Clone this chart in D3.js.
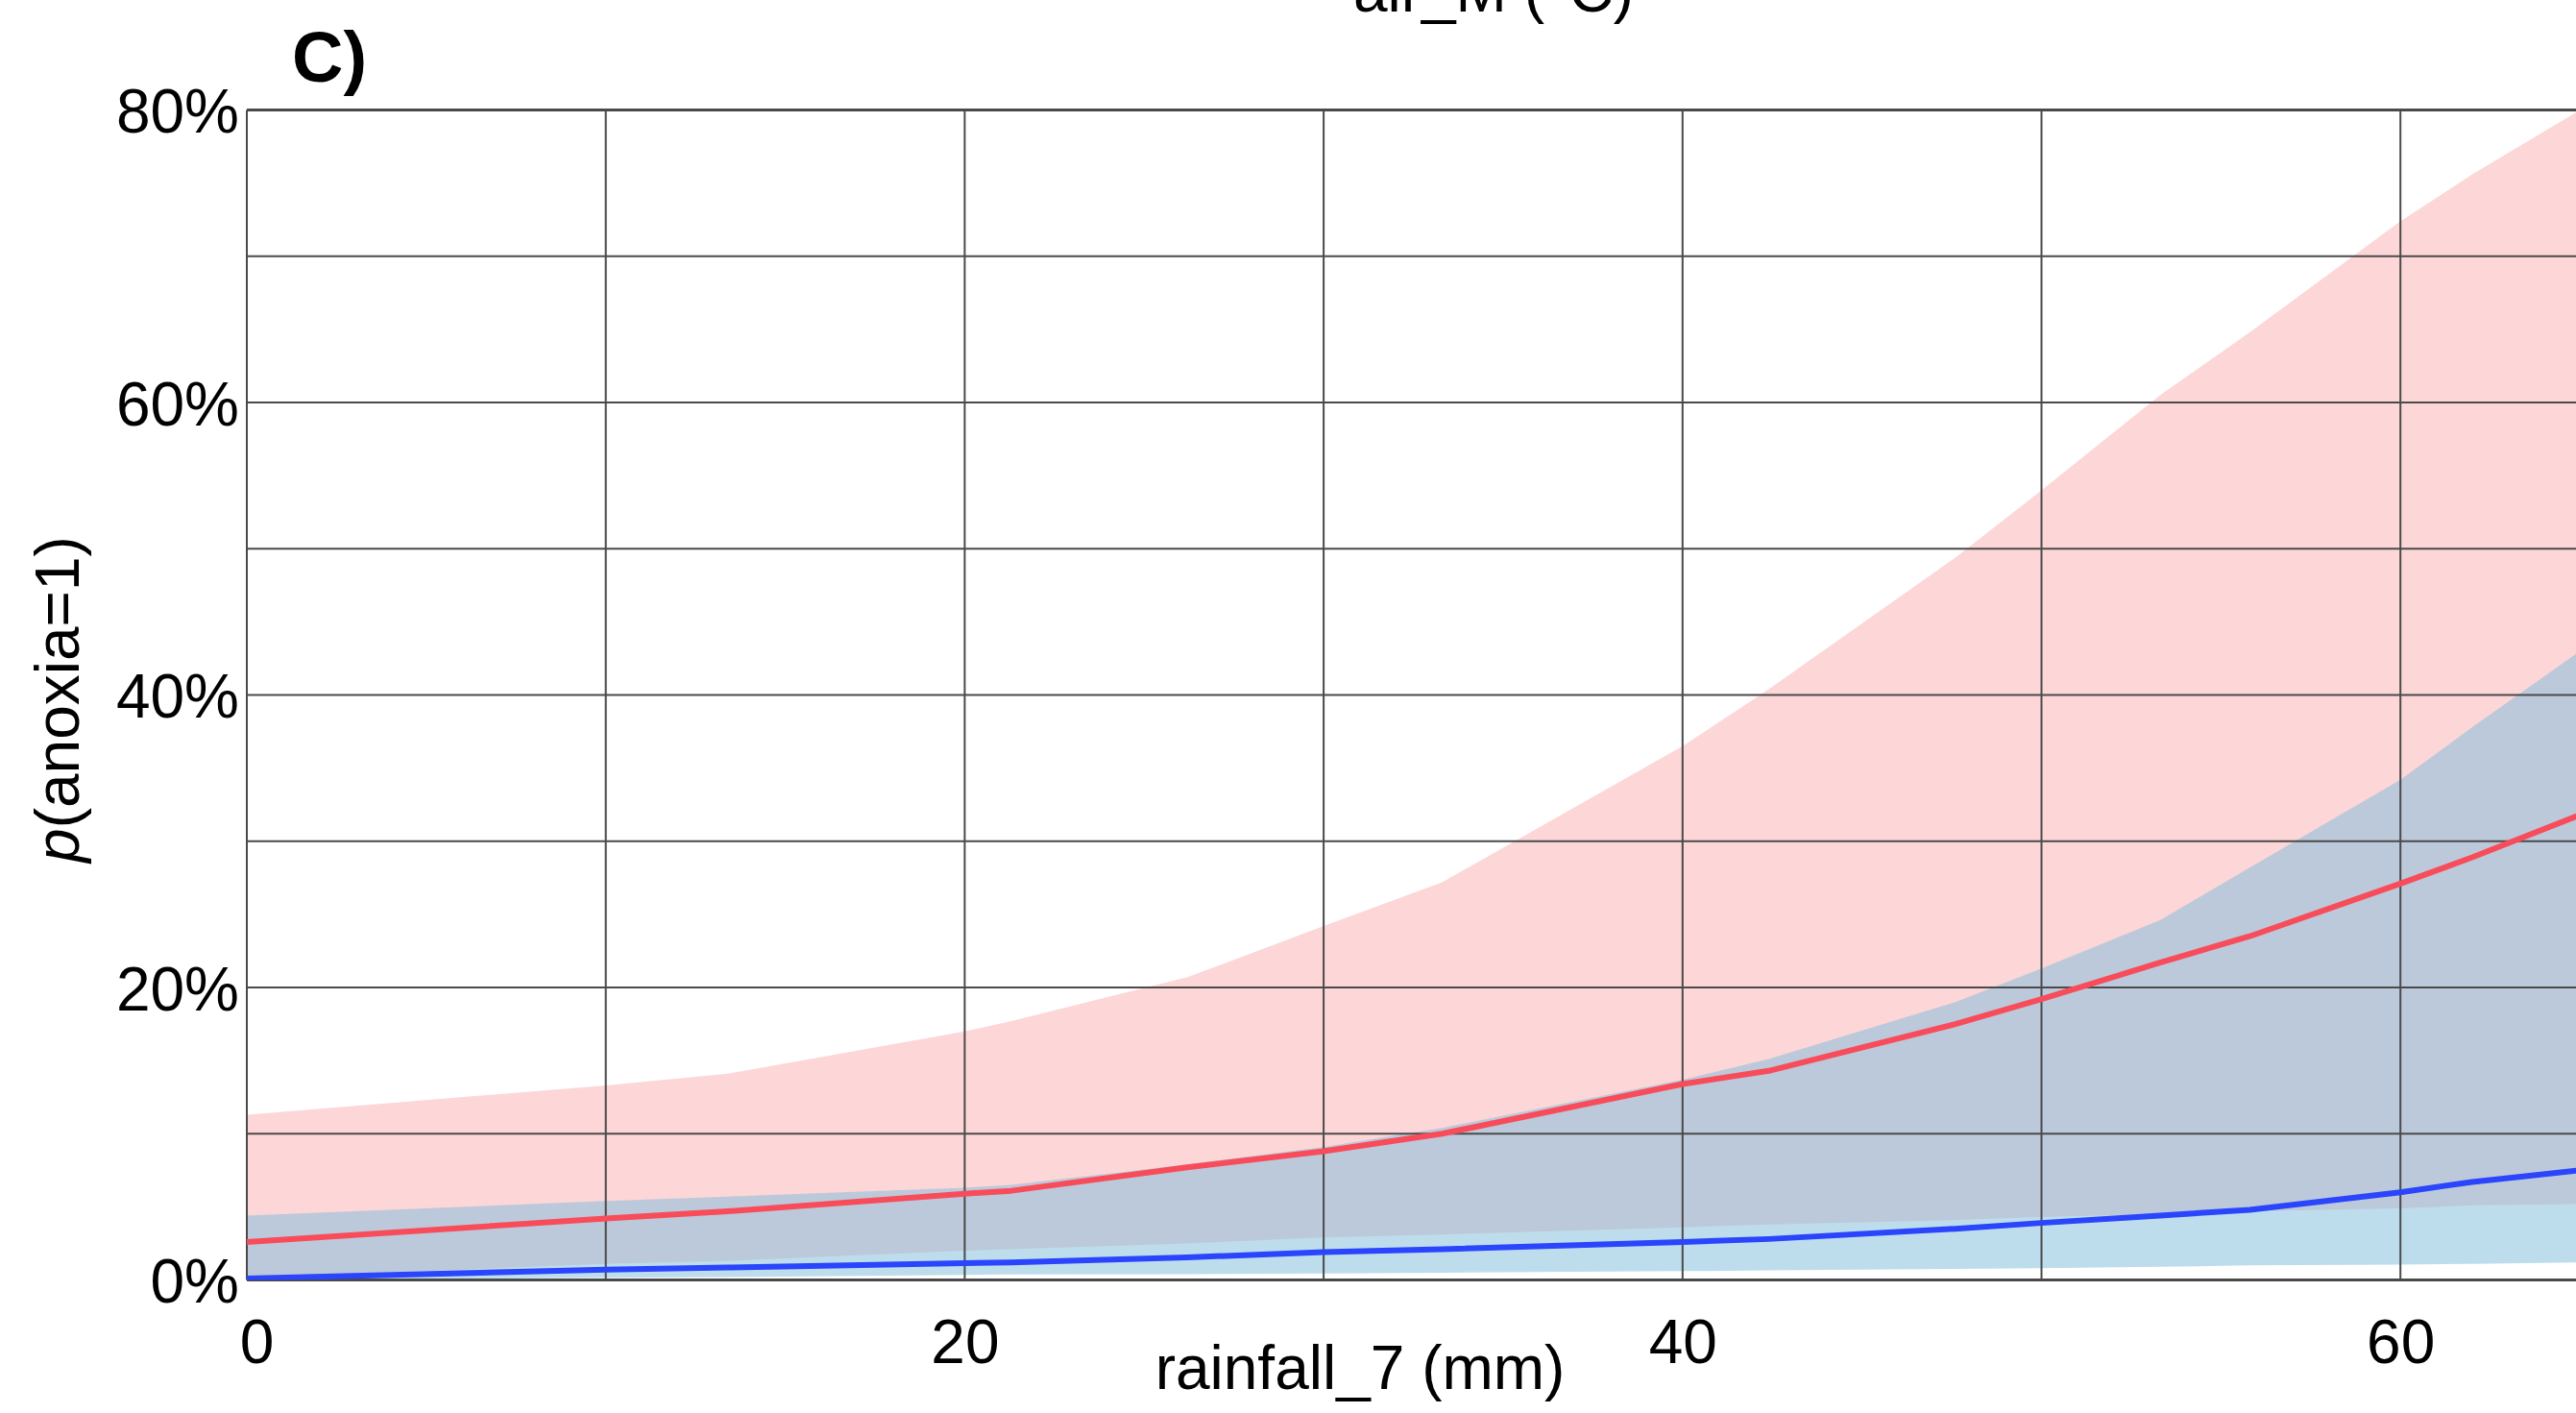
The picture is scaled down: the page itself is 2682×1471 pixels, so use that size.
<!DOCTYPE html>
<html>
<head>
<meta charset="utf-8">
<script src="https://cdn.jsdelivr.net/npm/d3@7/dist/d3.min.js"></script>
<style>
  html, body { margin: 0; padding: 0; background: #fff; overflow: hidden; }
  svg text { font-family: "Liberation Sans", Arial, Helvetica, sans-serif; fill: #000; }
</style>
</head>
<body>
<svg id="chart" width="2682" height="1471"></svg>
<script>
// ---- data ----
const rainfall = [0, 10, 13.4, 20, 21.3, 26.2, 30, 33.3, 40, 42.4, 47.6, 50, 53.3, 55.8, 60, 62, 65];
const redUpper = [11.3, 13.3, 14.1, 17.0, 17.7, 20.7, 24.2, 27.2, 36.5, 40.4, 49.4, 54.0, 60.5, 64.8, 72.4, 75.6, 80.0];
const redMid   = [2.6, 4.2, 4.7, 5.9, 6.1, 7.7, 8.8, 10.0, 13.4, 14.3, 17.5, 19.2, 21.7, 23.5, 27.1, 28.9, 31.8];
const redLower = [0.15, 1.1, 1.3, 2.0, 2.1, 2.5, 2.9, 3.1, 3.6, 3.8, 4.1, 4.3, 4.5, 4.7, 4.9, 5.1, 5.2];
const blueUpper = [4.4, 5.4, 5.7, 6.3, 6.5, 7.9, 9.1, 10.4, 13.7, 15.1, 19.0, 21.3, 24.6, 28.2, 34.2, 37.8, 43.0];
const blueMid   = [0.1, 0.7, 0.85, 1.15, 1.2, 1.55, 1.9, 2.1, 2.6, 2.8, 3.5, 3.9, 4.4, 4.8, 6.0, 6.7, 7.5];
const blueLower = [0.0, 0.15, 0.2, 0.35, 0.37, 0.4, 0.45, 0.5, 0.6, 0.65, 0.75, 0.8, 0.9, 1.0, 1.05, 1.1, 1.2];
const xTickLabels = [0, 20, 40, 60];
const yTickLabels = [0, 20, 40, 60, 80];
const xGrid = [0, 10, 20, 30, 40, 50, 60, 70];
const yGrid = [0, 10, 20, 30, 40, 50, 60, 70, 80];
const panelLabel = "C)";
const topTitle = "air_M (°C)";
const xTitle = "rainfall_7 (mm)";

// ---- layout ----
const svg = d3.select("#chart");
const pLeft = 257, pTop = 114.6, pBottom = 1332.5, unit = 37.37;
const x = d3.scaleLinear().domain([0, 70]).range([pLeft, pLeft + 70 * unit]);
const y = d3.scaleLinear().domain([0, 80]).range([pBottom, pTop]);

const red = rainfall.map((r, i) => ({x: r, lo: redLower[i], mid: redMid[i], hi: redUpper[i]}));
const blue = rainfall.map((r, i) => ({x: r, lo: blueLower[i], mid: blueMid[i], hi: blueUpper[i]}));

svg.append("defs").append("clipPath").attr("id", "plotclip")
  .append("rect").attr("x", pLeft).attr("y", pTop).attr("width", 70 * unit).attr("height", pBottom - pTop);

const bands = svg.append("g").attr("clip-path", "url(#plotclip)");

const area = d3.area().x(d => x(d.x)).y0(d => y(d.lo)).y1(d => y(d.hi));
const line = d3.line().x(d => x(d.x)).y(d => y(d.mid));

bands.append("path").datum(red).attr("d", area).attr("fill", "rgb(253,215,216)");
bands.append("path").datum(blue).attr("d", area).attr("fill", "rgb(123,187,219)").attr("fill-opacity", 0.5);

// grid
const grid = svg.append("g");
grid.selectAll("line.v").data(xGrid).join("line").attr("class", "v")
  .attr("x1", d => x(d)).attr("x2", d => x(d)).attr("y1", pTop).attr("y2", pBottom)
  .attr("stroke", "#4a4a4a").attr("stroke-width", 2);
grid.selectAll("line.h").data(yGrid).join("line").attr("class", "h")
  .attr("x1", pLeft).attr("x2", 2682).attr("y1", d => y(d)).attr("y2", d => y(d))
  .attr("stroke", "#4a4a4a").attr("stroke-width", d => (d === 0 || d === 80) ? 3 : 2);

const lines = svg.append("g").attr("clip-path", "url(#plotclip)");
lines.append("path").datum(red).attr("d", line).attr("fill", "none")
  .attr("stroke", "#f94c5a").attr("stroke-width", 6).attr("stroke-linejoin", "round");
lines.append("path").datum(blue).attr("d", line).attr("fill", "none")
  .attr("stroke", "#2a45fb").attr("stroke-width", 6).attr("stroke-linejoin", "round");

// axes (labels only)
const xAxis = d3.axisBottom(x).tickValues(xTickLabels).tickSize(0).tickPadding(0).tickFormat(d3.format("d"));
const gx = svg.append("g").attr("transform", `translate(0,${pBottom})`).call(xAxis);
gx.select(".domain").remove();
gx.selectAll("text").attr("font-size", 64).attr("dy", null).attr("y", 86)
  .attr("dx", (d, i) => i === 0 ? 10 : 0);

const yAxis = d3.axisLeft(y).tickValues(yTickLabels).tickSize(0).tickPadding(0).tickFormat(d => d + "%");
const gy = svg.append("g").attr("transform", `translate(${pLeft - 8},0)`).call(yAxis);
gy.select(".domain").remove();
gy.selectAll("text").attr("font-size", 64).attr("x", 0).attr("dy", "0.36em");

// titles
svg.append("text").attr("x", 304).attr("y", 85).attr("font-size", 74).attr("font-weight", "bold").text(panelLabel);
svg.append("text").attr("x", 1555).attr("y", 12).attr("font-size", 64).attr("text-anchor", "middle").text(topTitle);
svg.append("text").attr("x", 1416).attr("y", 1446).attr("font-size", 64).attr("text-anchor", "middle").text(xTitle);

const yl = svg.append("text").attr("transform", "translate(82,728) rotate(-90)")
  .attr("font-size", 64).attr("text-anchor", "middle");
yl.append("tspan").attr("font-style", "italic").text("p");
yl.append("tspan").text("(anoxia=1)");
</script>
</body>
</html>
